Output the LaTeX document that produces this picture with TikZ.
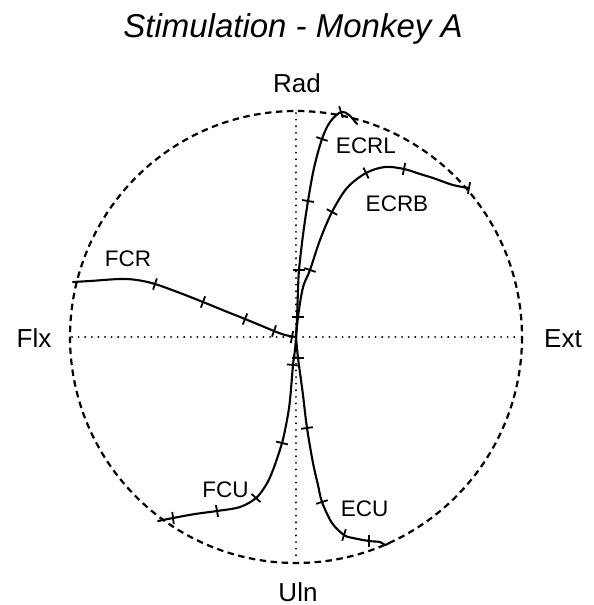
\documentclass[tikz,border=0pt]{standalone}
\usepackage{fontspec}
\setmainfont{Liberation Sans}
\newcommand\tk[4]{\draw[tickline] ({#1-1.2*(#3)},{#2-1.2*(#4)}) -- ({#1+1.2*(#3)},{#2+1.2*(#4)});}
\begin{document}
\begin{tikzpicture}[x=1pt,y=-1pt,
  rim/.style={line width=2.2pt, dash pattern=on 6.5pt off 4.5pt},
  axisline/.style={line width=2pt, line cap=round, dash pattern=on 0.1pt off 6.5pt},
  curve/.style={line width=2.1pt, line join=round, line cap=round},
  tickline/.style={line width=1.8pt},
  axlab/.style={anchor=base, inner sep=0pt, font=\fontsize{26}{30}\selectfont},
  muslab/.style={anchor=base, inner sep=0pt, font=\fontsize{22.5}{26}\selectfont},
  ttl/.style={anchor=base, inner sep=0pt, font=\fontsize{33}{38}\selectfont\itshape}]
\useasboundingbox (0,0) rectangle (594,605);
\coordinate (O) at (296,337);
% axes
\draw[axisline] (296,113) -- (296,561);
\draw[axisline] (72,337) -- (520,337);
% rim
\draw[rim] (O) circle[radius=226];
% labels
\node[ttl] (title) at (293,37) {Stimulation - Monkey A};
\node[axlab] (rad) at (297,92) {Rad};
\node[axlab] (uln) at (298,601) {Uln};
\node[axlab] (flx) at (34,347) {Flx};
\node[axlab] (ext) at (563,347) {Ext};
\node[muslab] (ecrl) at (366,153) {ECRL};
\node[muslab] (ecrb) at (397,211) {ECRB};
\node[muslab] (fcr) at (128,266) {FCR};
\node[muslab] (fcu) at (225.5,497) {FCU};
\node[muslab] (ecu) at (364.5,516) {ECU};
% ECRL
\draw[curve] plot[smooth, tension=0.55] coordinates {(296,337) (297,318) (298,290) (299,270) (303,235) (308,201) (314,168) (322,139) (330,122) (341,112) (349,115) (357,124)};
\tk{298}{317}{5}{0}
\tk{299}{270}{5}{0}
\tk{308}{201}{4.9}{0.8}
\tk{322}{139}{4.7}{1.6}
\tk{341}{112}{1.5}{4.8}
% ECRB
\draw[curve] plot[smooth, tension=0.55] coordinates {(296,337) (298,317) (301,297) (304,284) (310,270) (320,240) (332,212) (347,188) (366,173) (385,167) (404,169) (420,174) (433,178) (453,185) (469,188)};
\tk{310}{270}{4.7}{1.6}
\tk{332}{212}{4.4}{2.4}
\tk{366}{173}{2.2}{4.5}
\tk{404}{169}{-1}{4.9}
\tk{469}{188}{-0.9}{4.9}
% FCR
\draw[curve] plot[smooth, tension=0.55] coordinates {(73,282) (90,281) (120,279) (137,280) (155,284) (180,293) (203,302) (225,311) (245,319) (262,326) (274,331) (285,335) (296,337)};
\tk{292}{337}{-1}{5}
\tk{274}{331}{-1.7}{4.7}
\tk{245}{319}{-1.9}{4.6}
\tk{203}{302}{-1.8}{4.7}
\tk{155}{284}{-1.6}{4.7}
% FCU
\draw[curve] plot[smooth, tension=0.55] coordinates {(158,521) (173,518) (195,514) (217,511) (240,507) (256,498) (266,485) (273,470) (282,443) (287,420) (290,400) (293,365) (295,350) (296,337)};
\tk{293}{365}{5}{0.5}
\tk{282}{443}{4.9}{1.2}
\tk{256}{498}{3.7}{3.4}
\tk{217}{511}{0.9}{4.9}
\tk{173}{518}{0.6}{5}
% ECU
\draw[curve] plot[smooth, tension=0.55] coordinates {(296,337) (298,358) (301,380) (303,395) (307,428) (313,463) (318,485) (322,502) (332,523) (344,535) (353,538) (369,541) (380,542) (385,545) (389,543)};
\tk{298}{358}{5}{0}
\tk{307}{428}{4.9}{-0.7}
\tk{322}{502}{4.8}{-1.5}
\tk{344}{535}{1.5}{-4.8}
\tk{369}{541}{0}{5}
\end{tikzpicture}
\end{document}
